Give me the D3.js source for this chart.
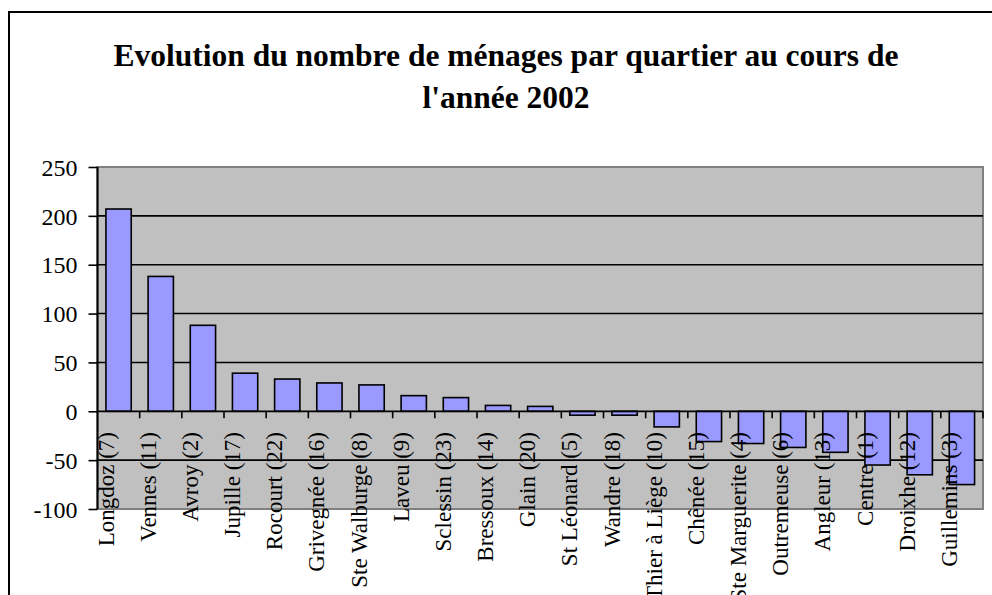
<!DOCTYPE html>
<html>
<head>
<meta charset="utf-8">
<script src="https://cdn.jsdelivr.net/npm/d3@7"></script>
<style>
  html, body { margin: 0; padding: 0; background: #fff; }
  svg { display: block; }
  text { font-family: "Liberation Serif", "Times New Roman", Times, serif; }
</style>
</head>
<body>
<svg id="chart" width="992" height="595"></svg>
<script>
const titleLines = ["Evolution du nombre de ménages par quartier au cours de", "l'année 2002"];
const categories = ["Longdoz (7)", "Vennes (11)", "Avroy (2)", "Jupille (17)", "Rocourt (22)", "Grivegnée (16)",
  "Ste Walburge (8)", "Laveu (9)", "Sclessin (23)", "Bressoux (14)", "Glain (20)", "St Léonard (5)",
  "Wandre (18)", "Thier à Liège (10)", "Chênée (15)", "Ste Marguerite (4)", "Outremeuse (6)",
  "Angleur (13)", "Centre (1)", "Droixhe (12)", "Guillemins (3)"];
const values = [207, 138, 88, 39, 33, 29, 27, 16, 14, 6, 5, -4, -4, -16, -31, -33, -37, -42, -55, -65, -75];
const yTicks = [-100, -50, 0, 50, 100, 150, 200, 250];
const gridValues = [-50, 50, 100, 150, 200];

(function () {
const svg = d3.select("#chart");

// outer chart frame
svg.append("rect").attr("x", 9).attr("y", 12).attr("width", 1000).attr("height", 700)
  .attr("fill", "#fff").attr("stroke", "#000").attr("stroke-width", 2);

// title
const title = svg.append("text").attr("text-anchor", "middle")
  .attr("font-weight", "bold").attr("font-size", 31.5).attr("fill", "#000");
titleLines.forEach((t, i) => {
  title.append("tspan").attr("x", 506).attr("y", 66 + i * 42).text(t);
});

const pLeft = 97.5, pRight = 983, pTop = 167, pBottom = 509;
const x = d3.scaleBand().domain(categories).range([pLeft, pRight]).paddingInner(0.4).paddingOuter(0.2);
const y = d3.scaleLinear().domain([-100, 250]).range([pBottom, pTop]);

// plot area
svg.append("rect").attr("x", pLeft).attr("y", pTop).attr("width", pRight - pLeft).attr("height", pBottom - pTop)
  .attr("fill", "#C0C0C0").attr("stroke", "#808080").attr("stroke-width", 2);

// gridlines
svg.append("g").selectAll("line").data(gridValues).join("line")
  .attr("x1", pLeft).attr("x2", pRight)
  .attr("y1", d => y(d)).attr("y2", d => y(d))
  .attr("stroke", "#000").attr("stroke-width", 1.6);

// bars
svg.append("g").selectAll("rect").data(values).join("rect")
  .attr("x", (d, i) => x(categories[i]))
  .attr("width", x.bandwidth())
  .attr("y", d => Math.min(y(d), y(0)))
  .attr("height", d => Math.abs(y(d) - y(0)))
  .attr("fill", "#9999FF").attr("stroke", "#000").attr("stroke-width", 1.6);

// zero axis line
svg.append("line").attr("x1", pLeft).attr("x2", pRight).attr("y1", y(0)).attr("y2", y(0))
  .attr("stroke", "#000").attr("stroke-width", 1.8);

// category tick marks at band boundaries
const step = x.step();
const x0 = x(categories[0]) - step * x.paddingInner() / 2;
svg.append("g").selectAll("line").data(categories).join("line")
  .attr("x1", (d, i) => x0 + (i + 1) * step)
  .attr("x2", (d, i) => x0 + (i + 1) * step)
  .attr("y1", y(0)).attr("y2", y(0) + 7)
  .attr("stroke", "#000").attr("stroke-width", 1.6);

// y axis
const yAxis = svg.append("g").attr("transform", `translate(${pLeft},0)`)
  .call(d3.axisLeft(y).tickValues(yTicks).tickSize(9).tickPadding(11).tickFormat(d => String(d)));
yAxis.select(".domain").attr("stroke", "#000").attr("stroke-width", 2).attr("d", `M0,${pTop}V${pBottom}`);
yAxis.selectAll(".tick line").attr("stroke", "#000").attr("stroke-width", 1.6);
yAxis.selectAll(".tick text").attr("font-size", 24).attr("fill", "#000")
  .attr("font-family", "'Liberation Serif', 'Times New Roman', serif").attr("dy", "0.34em");

// category labels (rotated)
svg.append("g").selectAll("text").data(categories).join("text")
  .attr("transform", d => `translate(${x(d) + x.bandwidth() / 2 - 5},432) rotate(-90)`)
  .attr("text-anchor", "end")
  .attr("font-size", 23).attr("fill", "#000")
  .text(d => d);
})();
</script>
</body>
</html>
